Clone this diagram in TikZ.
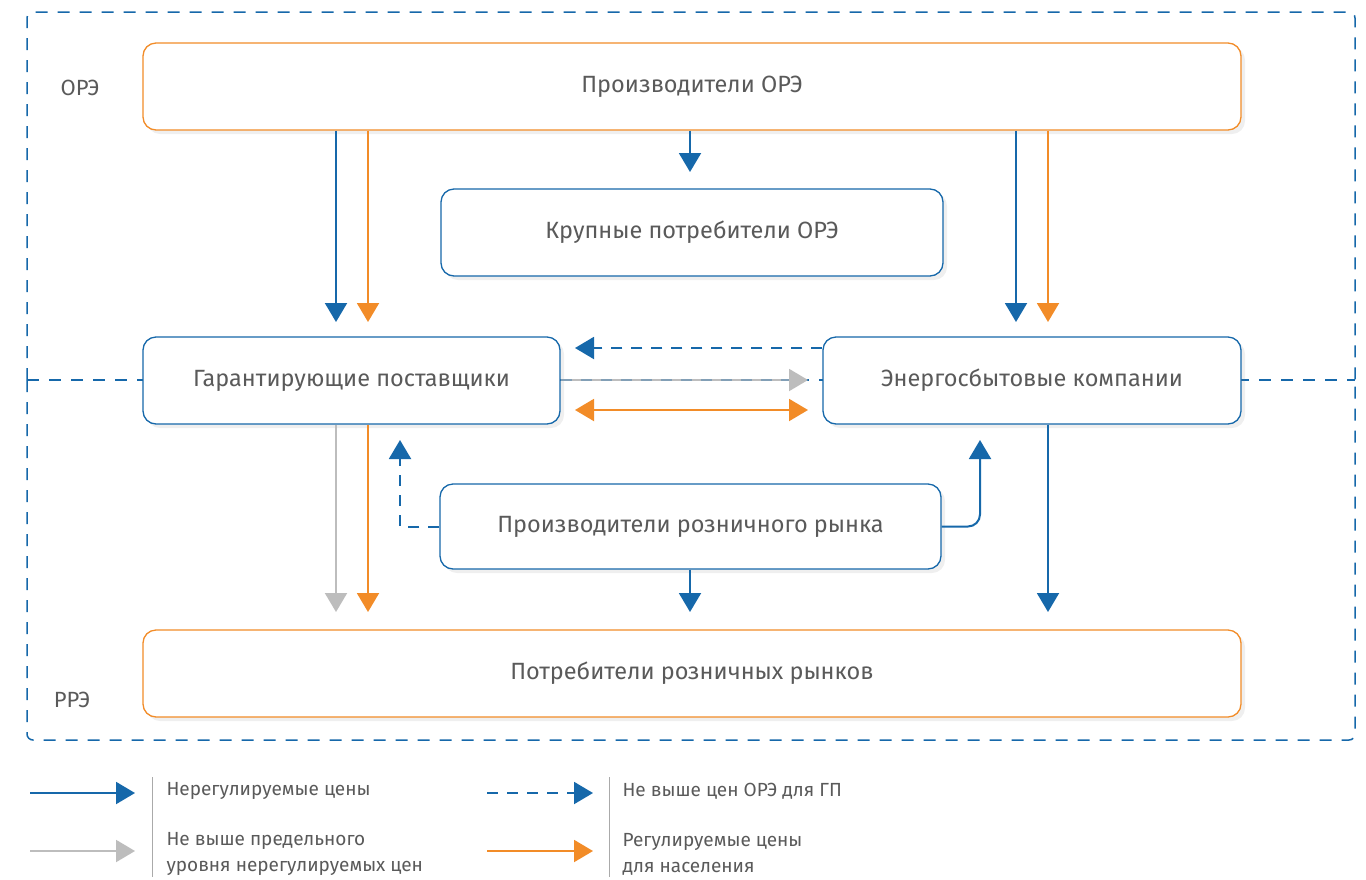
\documentclass[tikz,border=0pt]{standalone}
\usepackage{fontspec}
\setmainfont{Fira Sans}
\usetikzlibrary{arrows.meta,shadows}
\definecolor{cblue}{HTML}{1668AA}
\definecolor{corange}{HTML}{F28C28}
\definecolor{cgray}{HTML}{BDBDBD}
\definecolor{ctext}{HTML}{5A5A5A}
\tikzset{
  box/.style={draw=cblue, line width=1.3pt, fill=white, rounded corners=13pt, text=ctext,
    font=\fontsize{23.5}{26}\selectfont, drop shadow={opacity=0.12, shadow xshift=4pt, shadow yshift=-4pt}},
  obox/.style={box, draw=corange},
  tipA/.style={-{Triangle[length=19pt,width=22pt]}},
  barrow/.style={draw=cblue, line width=2pt, tipA},
  oarrow/.style={draw=corange, line width=2pt, tipA},
  garrow/.style={draw=cgray, line width=2pt, tipA},
  dbarrow/.style={draw=cblue, line width=2pt, dash pattern=on 11pt off 9pt, tipA},
  region/.style={draw=cblue, line width=1.5pt, dash pattern=on 12pt off 10pt},
  lbl/.style={text=ctext, font=\fontsize{22}{26}\selectfont},
  leg/.style={text=ctext, font=\fontsize{19}{26}\selectfont, anchor=west, align=left},
}
\begin{document}
\begin{tikzpicture}[x=1pt,y=-1pt]
\useasboundingbox[fill=white] (0,0) rectangle (1366,879);
% regions
\draw[region, rounded corners=6pt] (27,380) -- (27,12) -- (1355,12) -- (1355,380);
\draw[region, rounded corners=6pt] (27,380) -- (27,740) -- (1355,740) -- (1355,380);
\draw[region] (27,380) -- (1355,380);
\node[lbl] (ore) at (80,88) {ОРЭ};
\node[lbl] (rre) at (72,700) {РРЭ};
% boxes
\node[obox, minimum width=1098pt, minimum height=87pt] (prod) at (692,86.5) {Производители ОРЭ};
\node[box, minimum width=502pt, minimum height=87pt] (krup) at (692,232.5) {Крупные потребители ОРЭ};
\node[box, minimum width=417pt, minimum height=87pt] (gp) at (351.5,380.5) {Гарантирующие поставщики};
\node[box, minimum width=418pt, minimum height=87pt] (es) at (1032,380.5) {Энергосбытовые компании};
\node[box, minimum width=501pt, minimum height=85pt] (prr) at (690.5,526.5) {Производители розничного рынка};
\node[obox, minimum width=1098pt, minimum height=87pt] (potr) at (692,673.5) {Потребители розничных рынков};
% coordinates
\coordinate (a1) at (336,322); \coordinate (a2) at (368,322);
\coordinate (a3) at (690,172);
\coordinate (a4) at (1016,322); \coordinate (a5) at (1048,322);
\coordinate (b1) at (575,348); \coordinate (b2) at (808,380);
\coordinate (b3) at (575,410); \coordinate (b4) at (808,410);
\coordinate (c1) at (336,612); \coordinate (c2) at (368,612);
\coordinate (c3) at (690,612); \coordinate (c4) at (1048,612);
\coordinate (d1) at (400,440); \coordinate (d2) at (980,440);
% arrows
\draw[barrow] (prod.south -| a1) -- (a1);
\draw[oarrow] (prod.south -| a2) -- (a2);
\draw[barrow] (prod.south -| a3) -- (a3);
\draw[barrow] (prod.south -| a4) -- (a4);
\draw[oarrow] (prod.south -| a5) -- (a5);
\draw[dbarrow] (es.west |- b1) -- (b1);
\draw[garrow] (gp.east |- b2) -- (b2);
\draw[draw=cblue, line width=1.2pt, dash pattern=on 11pt off 9pt, opacity=0.35] (gp.east |- b2) -- ([xshift=-19pt]b2);
\draw[oarrow, {Triangle[length=19pt,width=22pt]}-{Triangle[length=19pt,width=22pt]}] (b3) -- (b4);
\draw[garrow] (gp.south -| c1) -- (c1);
\draw[oarrow] (gp.south -| c2) -- (c2);
\draw[dbarrow] (prr.west) -- (prr.west -| d1) -- (d1);
\draw[barrow, rounded corners=12pt] (prr.east) -- (prr.east -| d2) -- (d2);
\draw[barrow] (prr.south -| c3) -- (c3);
\draw[barrow] (es.south -| c4) -- (c4);
% legend
\coordinate (l1s) at (30,793); \coordinate (l1e) at (135,793);
\coordinate (l2s) at (30,851); \coordinate (l2e) at (135,851);
\coordinate (l3s) at (487,793); \coordinate (l3e) at (593,793);
\coordinate (l4s) at (487,851); \coordinate (l4e) at (593,851);
\draw[barrow] (l1s) -- (l1e);
\draw[garrow] (l2s) -- (l2e);
\draw[dbarrow] (l3s) -- (l3e);
\draw[oarrow] (l4s) -- (l4e);
\draw[draw=cgray!90!black, line width=1pt] (152,777) -- (152,877);
\draw[draw=cgray!90!black, line width=1pt] (609,777) -- (609,877);
\node[leg] (t1) at (163,791) {Нерегулируемые цены};
\node[leg] (t2) at (163,854) {Не выше предельного\\уровня нерегулируемых цен};
\node[leg] (t3) at (619,791) {Не выше цен ОРЭ для ГП};
\node[leg] (t4) at (619,854) {Регулируемые цены\\для населения};
\end{tikzpicture}
\end{document}
